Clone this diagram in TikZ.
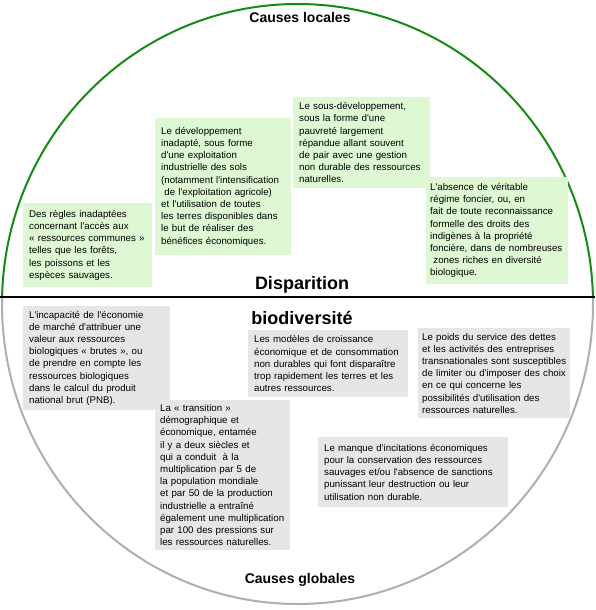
\documentclass[tikz,border=0pt]{standalone}
\usepackage{fontspec}
\setmainfont{Liberation Sans}[Ligatures=TeXOff]
\usetikzlibrary{positioning}
\usepackage{xcolor}

\definecolor{boxgreen}{RGB}{221,248,210}
\definecolor{boxgray}{RGB}{230,230,230}
\definecolor{arcgreen}{RGB}{20,140,20}
\definecolor{arcgray}{RGB}{175,175,175}

\begin{document}
\begin{tikzpicture}[x=1pt, y=-1pt,
      cbox/.style={anchor=north west, align=left, inner xsep=6pt, inner ysep=2pt,
                   font=\fontsize{9.7}{12.2}\selectfont},
      lbox/.style={cbox, fill=boxgreen},
      gbox/.style={cbox, fill=boxgray},
      head/.style={font=\fontsize{14}{16}\selectfont\bfseries},
      bighead/.style={font=\fontsize{18}{20}\selectfont\bfseries}]
    \useasboundingbox (0,0) rectangle (595,610);

    % circle: green half above, gray half below
    \begin{scope}
      \clip (0,0) rectangle (595,297);
      \draw[arcgreen, line width=2pt] (297.5,304) ellipse [x radius=295.5, y radius=300];
    \end{scope}
    \begin{scope}
      \clip (0,297) rectangle (595,610);
      \draw[arcgray, line width=2pt] (297.5,304) ellipse [x radius=295.5, y radius=300];
    \end{scope}
    \draw[line width=2pt] (0,297) -- (595,297);

    \node[head] (top) at (300,17) {Causes locales};
    \node[head] (bot) at (300,580) {Causes globales};
    \node[bighead] (disp) at (302,285) {Disparition};
    \node[bighead] (bio) at (302,318) {biodiversité};

    % causes locales
    \node[lbox, text width=117pt, minimum height=84pt] (L1) at (23,203)
      {Des règles inadaptées\\concernant l'accès aux\\« ressources communes »\\telles que les forêts,\\les poissons et les\\espèces sauvages.};
    \node[lbox, text width=124pt, minimum height=137pt] (L2) at (155,118)
      {Le développement\\inadapté, sous forme\\d'une exploitation\\industrielle des sols\\(notamment l'intensification\\\ de l'exploitation agricole)\\et l'utilisation de toutes\\les terres disponibles dans\\le but de réaliser des\\bénéfices économiques.};
    \node[lbox, text width=125pt, minimum height=91pt] (L3) at (293,97)
      {Le sous-développement,\\sous la forme d'une\\pauvreté largement\\répandue allant souvent\\de pair avec une gestion\\non durable des ressources\\naturelles.};
    \node[lbox, inner xsep=4pt, text width=134pt, minimum height=107pt] (L4) at (426,177)
      {L'absence de véritable\\régime foncier, ou, en\\fait de toute reconnaissance\\formelle des droits des\\indigènes à la propriété\\foncière, dans de nombreuses\\\ zones riches en diversité\\biologique.};

    % causes globales
    \node[gbox, text width=135pt, minimum height=104pt] (G1) at (23,306)
      {L'incapacité de l'économie\\de marché d'attribuer une\\valeur aux ressources\\biologiques « brutes », ou\\de prendre en compte les\\ressources biologiques\\dans le calcul du produit\\national brut (PNB).};
    \node[gbox, text width=148pt, minimum height=67pt] (G2) at (248,330)
      {Les modèles de croissance\\économique et de consommation\\non durables qui font disparaître\\trop rapidement les terres et les\\autres ressources.};
    \node[gbox, inner xsep=4pt, text width=144pt, minimum height=90pt] (G3) at (418,328)
      {Le poids du service des dettes\\et les activités des entreprises\\transnationales sont susceptibles\\de limiter ou d'imposer des choix\\en ce qui concerne les\\possibilités d'utilisation des\\ressources naturelles.};
    \node[gbox, inner xsep=5pt, text width=125pt, minimum height=150pt] (G4) at (155,400)
      {La « transition »\\démographique et\\économique, entamée\\il y a deux siècles et\\qui a conduit \ à la\\multiplication par 5 de\\la population mondiale\\et par 50 de la production\\industrielle a entraîné\\également une multiplication\\par 100 des pressions sur\\les ressources naturelles.};
    \node[gbox, text width=178pt, minimum height=70pt] (G5) at (318,437)
      {Le manque d'incitations économiques\\pour la conservation des ressources\\sauvages et/ou l'absence de sanctions\\punissant leur destruction ou leur\\utilisation non durable.};
\end{tikzpicture}
\end{document}
